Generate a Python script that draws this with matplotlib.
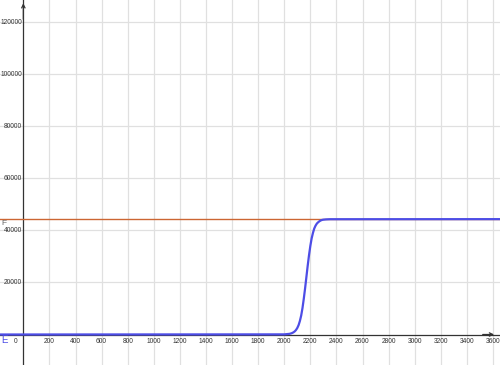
import matplotlib
matplotlib.use("Agg")
import matplotlib.pyplot as plt

# curve E: values
e_x = [-180, 2000, 2040, 2050, 2060, 2070, 2080, 2090, 2100, 2110, 2120, 2130,
       2140, 2150, 2160, 2170, 2180, 2190, 2200, 2210, 2220, 2230, 2240, 2250,
       2260, 2270, 2280, 2290, 2300, 2320, 2350, 3660]
e_y = [0, 50, 250, 380, 560, 820, 1180, 1720, 2500, 3600, 5200, 7300,
       10200, 13800, 17800, 22150, 26500, 30500, 34000, 36900, 39000, 40700, 41800, 42600,
       43100, 43500, 43800, 44000, 44100, 44200, 44270, 44300]

# line F: constant level
f_level = 44300

x_ticks = [200, 400, 600, 800, 1000, 1200, 1400, 1600, 1800, 2000, 2200, 2400,
           2600, 2800, 3000, 3200, 3400, 3600]
y_ticks = [20000, 40000, 60000, 80000, 100000, 120000]

blue = "#4d4de6"
orange = "#cc6633"

fig = plt.figure(figsize=(5, 3.65), dpi=100)
ax = fig.add_axes([0, 0, 1, 1])
ax.set_xlim(-179, 3654)
ax.set_ylim(-11713, 128460)

# grid
ax.set_xticks(x_ticks)
ax.set_yticks(y_ticks)
ax.grid(True, color="#e0e0e0", lw=0.9)
ax.tick_params(length=0, labelbottom=False, labelleft=False)
for s in ax.spines.values():
    s.set_visible(False)

# axes with arrows
ax.axhline(0, color="#333333", lw=0.9, zorder=2)
ax.axvline(0, color="#333333", lw=0.9, zorder=2)
ax.annotate("", xy=(0, 128300), xytext=(0, 120000),
            arrowprops=dict(arrowstyle="->", color="#333333", lw=0.9, mutation_scale=6))
ax.annotate("", xy=(3630, 0), xytext=(3500, 0),
            arrowprops=dict(arrowstyle="->", color="#333333", lw=0.9, mutation_scale=6))

# tick labels
font = dict(family="Liberation Sans", fontsize=4.8, color="#333333")
for t in x_ticks:
    ax.text(t, -2600, str(t), ha="center", va="center", **font)
ax.text(-45, -2600, "0", ha="right", va="center", **font)
for t in y_ticks:
    ax.text(-8, t, str(t), ha="right", va="center", **font)

# series
ax.axhline(f_level, color=orange, lw=1.0, zorder=3)
ax.plot(e_x, e_y, color=blue, lw=1.6, zorder=4)

ax.text(-165, f_level - 400, "F", ha="left", va="top", family="Liberation Sans",
        fontsize=6, color="#666666")
ax.text(-170, -300, "E", ha="left", va="top", family="Liberation Sans",
        fontsize=7, color=blue)

fig.savefig("out.png", dpi=100)
